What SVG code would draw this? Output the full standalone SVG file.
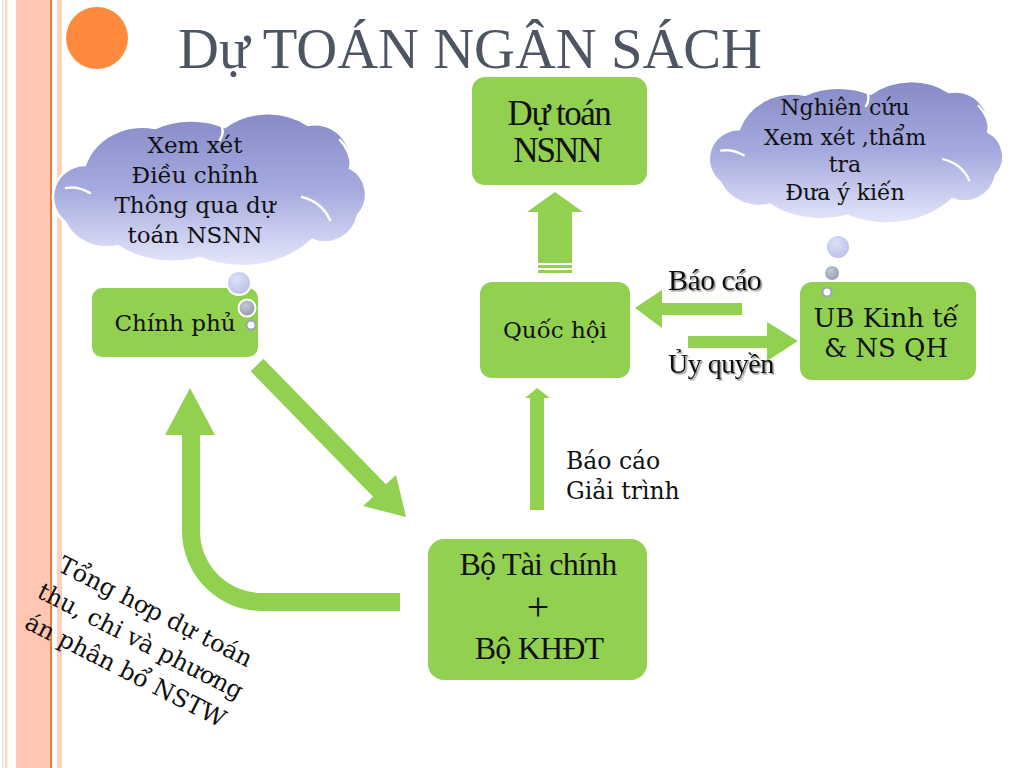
<svg xmlns="http://www.w3.org/2000/svg" width="1024" height="768" viewBox="0 0 1024 768">
<defs>
<linearGradient id="cloudGrad" x1="0" y1="0" x2="0" y2="1">
<stop offset="0" stop-color="#868BC8"/>
<stop offset="0.5" stop-color="#A5AADE"/>
<stop offset="1" stop-color="#E4E7FA"/>
</linearGradient>
<radialGradient id="bubBig" cx="0.4" cy="0.35" r="0.7">
<stop offset="0" stop-color="#DCE0F8"/>
<stop offset="1" stop-color="#B9BFEA"/>
</radialGradient>
<radialGradient id="bubMid" cx="0.4" cy="0.35" r="0.7">
<stop offset="0" stop-color="#C4CAD6"/>
<stop offset="1" stop-color="#8F99AC"/>
</radialGradient>
<filter id="shadow" x="-10%" y="-20%" width="130%" height="160%">
<feDropShadow dx="1.5" dy="1.5" stdDeviation="0.7" flood-color="#777" flood-opacity="0.8"/>
</filter>
<g id="cloudShape">
<path class="cloudBody" d="M 13 110 A 32 32 0 0 1 33 53 A 60 55 0 0 1 103 16 A 80 70 0 0 1 173 15 A 65 55 0 0 1 256 13 A 36 36 0 0 1 298 56 A 30 30 0 0 1 306 103 A 34 34 0 0 1 260 128 A 95 80 0 0 1 148 146 A 80 60 0 0 1 66 134 A 45 40 0 0 1 13 110 Z"/>
<path class="cloudArc" d="M 250 85 Q 270 90 278 108 M 14 76 Q 26 74 38 81 M 288 28 Q 298 38 300 56 M 170 15 Q 172 22 168 28"/>
</g>
</defs>
<style>
.box{fill:#92D050}
.arrow{fill:#92D050}
.cloudBody{fill:url(#cloudGrad);stroke:#FFFFFF;stroke-width:2.5}
.cloudArc{fill:none;stroke:#FFFFFF;stroke-width:2.5;stroke-linecap:round}
.cs{font-family:"DejaVu Serif","Liberation Serif",serif;fill:#111111}
.tn{font-family:"Liberation Serif","Times New Roman",serif;fill:#111111}
.mid{text-anchor:middle}
.bubS{fill:#FFFFFF;stroke:#9AA3B5;stroke-width:2}
</style>
<rect x="0" y="0" width="1024" height="768" fill="#FFFFFF"/>
<g id="margin">
<rect x="2" y="0" width="1.5" height="768" fill="#F2DCCF"/>
<rect x="5" y="0" width="2.5" height="768" fill="#FFD3C3"/>
<rect x="16" y="0" width="34" height="768" fill="#FFC7B2"/>
<rect x="50" y="0" width="2" height="768" fill="#F07A3A"/>
<rect x="57" y="0" width="5" height="768" fill="#FFD0C0"/>
</g>
<circle id="bullet" cx="97" cy="38" r="31" fill="#FF8A3D"/>
<text id="title" x="178" y="68" font-family="'Liberation Serif','Times New Roman',serif" font-size="58" fill="#4D5563" textLength="584" lengthAdjust="spacingAndGlyphs">Dự TOÁN NGÂN SÁCH</text>

<g id="connectors">
<polygon class="arrow" points="263.4,358.7 385.9,484.2 396,475 406,517 363,506 373.1,496.8 250.6,371.3"/>
<path class="arrow" d="M 182 435 L 182 531 A 80 80 0 0 0 262 611 L 400 611 L 400 593 L 262 593 A 62 62 0 0 1 200 531 L 200 435 L 215 435 L 190 388 L 165 435 Z"/>
<polygon class="arrow" points="555,192 583,212 572,212 572,263 538,263 538,212 527,212"/>
<rect class="arrow" x="538" y="265" width="34" height="3"/>
<rect class="arrow" x="538" y="270" width="34" height="3"/>
<polygon class="arrow" points="635,308 662,290 662,303 742,303 742,315 662,315 662,328"/>
<polygon class="arrow" points="688,336 767,336 767,322 798,341 767,361 767,348 688,348"/>
<polygon class="arrow" points="537,388 550,398 544,398 544,510 530,510 530,398 525,398"/>
<text class="tn" x="668" y="290" font-size="30" letter-spacing="-0.6" filter="url(#shadow)">Báo cáo</text>
<text class="tn" x="668" y="373" font-size="28" letter-spacing="-0.5" filter="url(#shadow)">Ủy quyền</text>
<text class="cs" x="566" y="469" font-size="23.5">Báo cáo</text>
<text class="cs" x="566" y="499" font-size="23.5">Giải trình</text>
</g>

<g id="cloud-left">
<use href="#cloudShape" transform="translate(52,112)"/>
<text class="cs mid" x="195" y="153" font-size="23">Xem xét</text>
<text class="cs mid" x="195" y="183" font-size="23">Điều chỉnh</text>
<text class="cs mid" x="195" y="213" font-size="23">Thông qua dự</text>
<text class="cs mid" x="195" y="243" font-size="23">toán NSNN</text>
</g>
<g id="cloud-right">
<use href="#cloudShape" transform="translate(708,80) scale(0.94,0.93)"/>
<text class="cs mid" x="845" y="115" font-size="22">Nghiên cứu</text>
<text class="cs mid" x="845" y="145" font-size="22">Xem xét ,thẩm</text>
<text class="cs mid" x="845" y="172" font-size="22">tra</text>
<text class="cs mid" x="845" y="200" font-size="22">Đưa ý kiến</text>
</g>

<g id="node-chinhphu">
<rect class="box" x="92" y="288" width="166" height="69" rx="10"/>
<text class="cs mid" x="175" y="331" font-size="23">Chính phủ</text>
<circle cx="239" cy="283" r="12" fill="url(#bubBig)" stroke="#FFFFFF" stroke-width="2"/>
<circle cx="247" cy="308" r="8.5" fill="url(#bubMid)" stroke="#FFFFFF" stroke-width="2"/>
<circle class="bubS" cx="251" cy="325" r="4.5"/>
</g>
<g id="node-dutoan">
<rect class="box" x="472" y="77" width="175" height="108" rx="13"/>
<text class="tn mid" x="559" y="125" font-size="35" letter-spacing="-1.5">Dự toán</text>
<text class="tn mid" x="557" y="162" font-size="35" letter-spacing="-2">NSNN</text>
</g>
<g id="node-quochoi">
<rect class="box" x="480" y="282" width="150" height="96" rx="12"/>
<text class="cs mid" x="555" y="338" font-size="23">Quốc hội</text>
</g>
<g id="node-ubkt">
<rect class="box" x="800" y="282" width="176" height="98" rx="12"/>
<text class="cs mid" x="886" y="327" font-size="26">UB Kinh tế</text>
<text class="cs mid" x="886" y="357" font-size="26">&amp; NS QH</text>
<circle cx="838" cy="247" r="12" fill="url(#bubBig)" stroke="#FFFFFF" stroke-width="2"/>
<circle cx="832" cy="273" r="8" fill="url(#bubMid)" stroke="#FFFFFF" stroke-width="2"/>
<circle class="bubS" cx="827" cy="292" r="4.5"/>
</g>
<g id="node-botaichinh">
<rect class="box" x="428" y="539" width="219" height="141" rx="16"/>
<text class="tn mid" x="538" y="575" font-size="32" letter-spacing="-0.8">Bộ Tài chính</text>
<text class="tn mid" x="538" y="620" font-size="40">+</text>
<text class="tn mid" x="539" y="659" font-size="32" letter-spacing="-0.8">Bộ KHĐT</text>
</g>
<g id="label-tonghop" transform="translate(140,642) rotate(27)">
<text class="cs mid" x="0" y="-26" font-size="24">Tổng hợp dự toán</text>
<text class="cs mid" x="0" y="7" font-size="24">thu, chi và phương</text>
<text class="cs mid" x="0" y="40" font-size="24">án phân bổ NSTW</text>
</g>
</svg>
